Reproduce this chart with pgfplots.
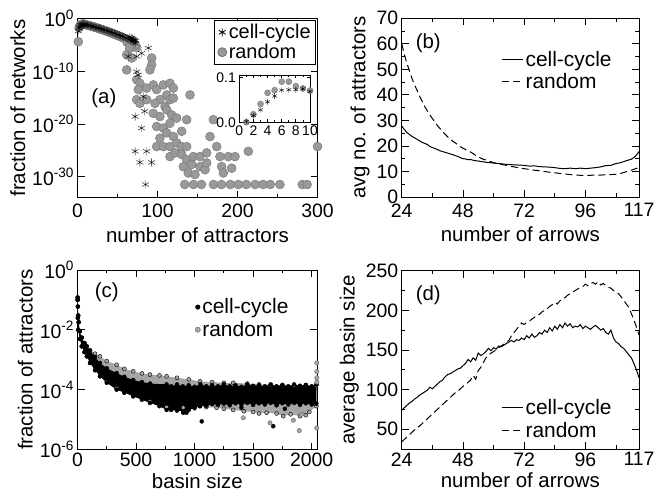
\documentclass[border=0pt]{standalone}
\usepackage{fontspec}
\setmainfont{Liberation Sans}
\usepackage{pgfplots}
\pgfplotsset{compat=1.18}

\pgfplotsset{
  panel/.style={
    scale only axis,
    anchor=south west,
    tick align=inside,
    major tick length=7bp,
    minor tick length=3.5bp,
    axis line style={line width=0.9pt},
    every tick/.style={black, line width=0.8pt},
    tick label style={font=\fontsize{19.5}{20}\selectfont},
    label style={font=\fontsize{20.5}{22}\selectfont},
    /pgf/number format/assume math mode=true,
    /pgf/number format/set thousands separator={},
    legend style={font=\fontsize{21}{23}\selectfont, draw=none, fill=none, row sep=2bp},
    legend cell align=left,
  },
  toprow/.style={xticklabel style={yshift=-3bp}, xlabel style={yshift=-3bp}},
  lines/.style={legend image code/.code={\draw[##1] (0bp,0bp) -- (21bp,0bp);}},
}

\begin{document}
\begin{tikzpicture}
\useasboundingbox (0,0) rectangle (658bp,499bp);

% (a) distribution of the number of attractors
\begin{axis}[panel, toprow, at={(77.5bp,301.3bp)}, width=240bp, height=179.2bp,
  xmin=0, xmax=300, ymode=log, ymin=1e-34, ymax=1,
  xtick={0,100,200,300}, minor xtick={50,150,250},
  ytick={1e-30,1e-20,1e-10,1}, yminorticks=false,
  yticklabels={10\textsuperscript{-30},10\textsuperscript{-20},10\textsuperscript{-10},10\textsuperscript{0}},
  xlabel={number of attractors}, ylabel={fraction of networks},
  legend style={at={(rel axis cs:0.994,0.992)}, anchor=north east, draw=black, fill=white,
    line width=0.8pt, font=\fontsize{20}{22}\selectfont, row sep=0bp},
]
\addlegendimage{only marks, mark=asterisk, mark size=4bp, black}
\addlegendentry{cell-cycle}
\addlegendimage{only marks, mark=*, mark size=4.5bp, mark options={draw=black!55, fill=black!40}}
\addlegendentry{random}
% random
\addplot[only marks, mark=*, mark size=4.5bp, mark options={draw=black!55, fill=black!40}, forget plot] coordinates {
(1,4e-5) (2,0.018) (3,0.041) (4,0.066) (5,0.072) (6,0.091) (7,0.091) (8,0.081) (9,0.076) (10,0.071)
(12,5.6e-2) (14,4.7e-2) (16,3.9e-2) (18,3.2e-2) (20,2.6e-2) (22,2.1e-2) (24,1.7e-2) (26,1.35e-2)
(28,1.07e-2) (30,8.5e-3) (32,6.8e-3) (34,5.2e-3) (36,4.1e-3) (38,3.2e-3) (40,2.5e-3) (42,1.9e-3)
(44,1.45e-3) (46,1.1e-3) (48,8.3e-4) (50,6.3e-4) (52,4.7e-4) (54,3.5e-4) (56,2.6e-4) (58,1.9e-4)
(60,1.4e-4) (62,1e-4) (64,7.2e-5) (66,5.1e-5) (68,3.6e-5) (70,2.5e-5)
(62,3e-5) (66,1e-5) (70,6e-6) (74,3e-6) (72,1e-5) (65,2e-6)
(61.5,1.3e-7) (67.7,3.2e-8) (61.5,1.8e-10) (74,2.5e-12) (78,5e-13) (76,3.2e-14) (86.5,6.3e-14)
(74,4e-16) (78,7.9e-17) (86.5,4e-16) (92.7,3.2e-8) (92.7,1.6e-9) (90.6,1.8e-10) (94.8,2.5e-13)
(99,3.2e-14) (107.3,2.5e-13) (115.6,5e-13) (119.8,6.3e-14) (111.5,3.2e-15) (103,4e-16)
(96.9,7.9e-17) (109.4,2e-17) (115.6,4e-16) (119.8,7.9e-16) (94.8,1e-18) (103,2.5e-19)
(111.5,5e-18) (117.7,5e-19) (124,1.3e-19) (115.6,1.3e-20) (99,3.2e-21) (107.3,1.6e-21)
(111.5,2e-22) (119.8,4e-23) (130.2,4e-22) (136.5,6.3e-20) (140.6,3.2e-15) (103,2e-23)
(99,5e-25) (107.3,5e-25) (115.6,5e-25) (124,2.5e-24) (130.2,5e-25) (136.5,5e-25)
(115.6,6.3e-27) (121.9,3.2e-26) (130.2,1.6e-26) (136.5,1.6e-27) (144.8,6.3e-27) (153.1,6.3e-27)
(161.5,3.2e-26) (132.3,7.9e-29) (142.7,2e-28) (153.1,7.9e-29) (159.4,2e-29) (138.5,5e-30)
(146.9,2.5e-30) (161.5,4e-28) (165.6,4e-23) (169.8,6.3e-20) (174,5e-25) (178.1,6.3e-27)
(180.2,7.9e-29) (182.3,5e-30) (188.5,6.3e-27) (192.7,4e-29) (196.9,6.3e-27) (213.5,6.3e-26)
(134,3.2e-32) (145,3.2e-32) (155,3.2e-32) (170,3.2e-32) (180,3.2e-32) (191,3.2e-32) (201,3.2e-32)
(211,3.2e-32) (222,3.2e-32) (232,3.2e-32) (241,3.2e-32) (253,3.2e-32) (281,3.2e-32) (287,3.2e-32)
(300,5e-25)
};
% cell-cycle
\addplot[only marks, mark=asterisk, mark size=4bp, black, forget plot] coordinates {
(1,4e-3) (2,1.6e-2) (3,2.8e-2) (4,4.6e-2) (5,5.9e-2) (6,7.2e-2) (7,7.3e-2) (8,7.3e-2) (9,7.5e-2) (10,6.9e-2)
(12,5.9e-2) (14,5e-2) (16,4.2e-2) (18,3.5e-2) (20,2.9e-2) (22,2.4e-2) (24,1.95e-2) (26,1.6e-2)
(28,1.3e-2) (30,1.05e-2) (32,8.3e-3) (34,6.8e-3) (36,5.4e-3) (38,4.2e-3) (40,3.3e-3) (42,2.6e-3)
(44,2e-3) (46,1.55e-3) (48,1.2e-3) (50,9.1e-4) (52,6.9e-4) (54,5.2e-4) (56,4e-4) (58,3e-4)
(60,2.2e-4) (62,1.6e-4) (64,1.2e-4) (66,8.7e-5) (68,6.3e-5) (70,4.6e-5)
(65,3e-4) (67,2e-4) (69,1.5e-4) (71,8e-5) (73,6e-5) (72,2e-5)
(69.8,8.5e-5) (63.5,6.3e-8) (74,6.3e-8) (80,2.5e-7) (88.5,2.5e-6) (74,7.9e-11) (76,2e-11)
(82,1.6e-15) (72,2.5e-19) (84,2.5e-18) (80,1.6e-21) (72,6.3e-26) (86.5,6.3e-26) (78,5e-28)
(92.7,5e-28) (85,3.2e-32)
};
\node[font=\fontsize{20.5}{22}\selectfont] at (rel axis cs:0.11,0.555) {(a)};
\end{axis}

% (a) inset, linear scale
\begin{axis}[panel, at={(239.3bp,376.7bp)}, width=70.7bp, height=47.3bp,
  xmin=0, xmax=10, ymin=0, ymax=0.106,
  xtick={0,2,...,10}, minor xtick={1,3,...,9}, ytick={0,0.1},
  major tick length=3.5bp, minor tick length=2bp,
  axis background/.style={fill=white},
  tick label style={font=\fontsize{14}{15}\selectfont},
  yticklabel style={/pgf/number format/.cd, fixed, precision=1, zerofill},
  xtick pos=both, ytick pos=both,
]
\addplot[only marks, mark=*, mark size=3bp, mark options={draw=black!55, fill=black!40}] coordinates {
(1,0) (2,0.018) (3,0.041) (4,0.066) (5,0.072) (6,0.091) (7,0.091) (8,0.081) (9,0.076) (10,0.071)
};
\addplot[only marks, mark=asterisk, mark size=2.8bp, black] coordinates {
(1,0.002) (2,0.015) (3,0.028) (4,0.046) (5,0.059) (6,0.072) (7,0.073) (8,0.073) (9,0.075) (10,0.069)
};
\end{axis}

% (b) average number of attractors
\begin{axis}[panel, toprow, lines, at={(401.7bp,302bp)}, width=237.3bp, height=178.7bp,
  xmin=24, xmax=117, ymin=0, ymax=70,
  xtick={24,48,72,96,117}, minor xtick={36,60,84,108},
  ytick={0,10,...,70}, minor ytick={5,15,...,65},
  xlabel={number of arrows}, ylabel={avg no. of attractors},
  legend style={at={(rel axis cs:0.42,0.83)}, anchor=north west, inner sep=0pt},
]
\addplot[black, line width=1pt] coordinates {
(24,27.8) (25,26.5) (26,25.3) (27,24.5) (28,23.8) (29,23.2) (30,22.6) (31,22) (32,21.4) (33,21)
(34,20.6) (35,19.8) (36,19.4) (37,19) (38,18.6) (39,18.1) (40,17.8) (41,17.5) (42,17.2) (43,16.9)
(44,16.6) (45,16.2) (46,15.9) (47,15.4) (48,15) (49,14.9) (50,14.6) (51,14.7) (52,14.4) (53,14.2)
(54,14.1) (55,13.9) (56,13.8) (57,13.6) (58,13.5) (60,13.3) (62,13.1) (64,12.9) (66,12.7) (68,12.6)
(70,12.5) (72,12.4) (74,12.1) (76,12.2) (78,11.9) (80,11.8) (82,11.7) (84,11.5) (86,11.2) (88,11.1)
(90,11.3) (92,11.1) (94,11.3) (96,11.1) (98,11.3) (100,11.5) (102,11.8) (104,12.3) (106,12.4)
(108,13.1) (110,13.5) (112,14.2) (114,14.8) (115,15.5) (116,16.4) (117,17.8)
};
\addlegendentry{cell-cycle}
\addplot[black, line width=1pt, dash pattern=on 7bp off 4bp] coordinates {
(24,60) (25,56) (26,52.5) (27,49.5) (28,46.5) (29,44) (30,41.8) (31,39.5) (32,37.5) (33,35.5)
(34,33.8) (35,32.2) (36,30.8) (37,29.4) (38,28) (39,26.8) (40,25.6) (41,24.6) (42,23.6) (43,22.7)
(44,21.9) (45,21.2) (46,20.4) (47,19.7) (48,19.1) (49,18.6) (50,18.2) (51,17.6) (52,17) (53,16.3)
(54,15.8) (55,15.2) (56,14.8) (57,14.5) (58,14.1) (60,13.5) (62,13) (64,12.6) (66,12.2) (68,11.8)
(70,11.4) (72,11.1) (74,10.8) (76,10.5) (78,10.3) (80,10) (82,9.7) (84,9.5) (86,9.2) (88,9)
(90,8.8) (92,8.6) (94,8.5) (96,8.4) (98,8.5) (100,8.6) (102,8.6) (104,8.7) (106,8.8) (108,8.9)
(110,9.3) (112,9.9) (114,10.5) (116,11.2) (117,11.6)
};
\addlegendentry{random}
\node[font=\fontsize{20.5}{22}\selectfont] at (rel axis cs:0.112,0.86) {(b)};
\end{axis}

% (c) basin size distribution
\begin{axis}[panel, at={(77.5bp,49.5bp)}, width=239.8bp, height=179.5bp,
  xmin=0, xmax=2048, ymode=log, ymin=1e-6, ymax=1,
  xtick={0,500,1000,1500,2000}, minor xtick={250,750,1250,1750},
  ytick={1e-6,1e-4,1e-2,1}, yminorticks=false,
  yticklabels={10\textsuperscript{-6},10\textsuperscript{-4},10\textsuperscript{-2},10\textsuperscript{0}},
  xlabel={basin size}, ylabel={fraction of attractors},
  legend style={at={(rel axis cs:0.49,0.852)}, anchor=north west, inner sep=0pt},
]
\addlegendimage{only marks, mark=*, mark size=2.3bp, black}
\addlegendentry{cell-cycle}
\addlegendimage{only marks, mark=*, mark size=2.6bp, mark options={draw=black!60, fill=black!35}}
\addlegendentry{random}
% random band (upper edge, then lower edge back)
\addplot[fill=black!35, draw=none, mark=*, mark size=2bp, mark options={draw=none, fill=black!35}, forget plot] coordinates {
(1,0.12) (3,0.06) (6,0.03) (10,0.018) (20,9e-3) (36,5.5e-3) (60,3.6e-3) (79,2.8e-3) (107,2.1e-3)
(150,1.6e-3) (192,1.3e-3) (250,9e-4) (334,6.8e-4) (400,5e-4) (476,4.1e-4) (550,3.5e-4) (619,3.2e-4)
(700,3e-4) (761,2.8e-4) (850,2.5e-4) (950,2.2e-4) (1046,1.9e-4) (1150,1.8e-4) (1250,1.7e-4)
(1330,1.7e-4) (1450,1.6e-4) (1550,1.5e-4) (1650,1.45e-4) (1750,1.4e-4) (1850,1.4e-4) (1950,1.4e-4) (2040,1.4e-4)
(2040,2.8e-5) (1980,1.8e-5) (1950,1.4e-5) (1900,1.3e-5) (1820,1.5e-5) (1757,1.3e-5) (1700,1.6e-5)
(1615,1.7e-5) (1550,1.6e-5) (1500,1.8e-5) (1420,1.9e-5) (1330,2.1e-5) (1250,2.3e-5) (1188,2.5e-5)
(1100,2.6e-5) (1046,2.8e-5) (903,2.5e-5) (761,2.6e-5) (619,4e-5) (476,6e-5) (400,8e-5) (334,1.1e-4)
(250,1.8e-4) (192,2.8e-4) (150,4.5e-4) (107,7.8e-4) (80,1.3e-3) (60,1.8e-3) (36,2.8e-3) (20,5e-3)
(7,1e-2) (3,2.5e-2) (1,0.1)
};
% cell-cycle band
\addplot[fill=black, draw=none, mark=*, mark size=2bp, mark options={draw=none, fill=black}, forget plot] coordinates {
(1,0.12) (3,0.06) (6,0.03) (10,0.018) (20,9e-3) (36,5.5e-3) (60,3.6e-3) (79,2.8e-3) (107,2e-3)
(150,1.25e-3) (192,7.8e-4) (250,5.2e-4) (334,3.6e-4) (400,2.7e-4) (476,2.1e-4) (550,1.8e-4)
(620,1.6e-4) (761,1.5e-4) (800,1.3e-4) (850,1.5e-4) (900,1.3e-4) (950,1.4e-4) (1000,1.25e-4)
(1050,1.5e-4) (1100,1.3e-4) (1150,1.4e-4) (1200,1.3e-4) (1250,1.5e-4) (1300,1.3e-4) (1350,1.4e-4)
(1400,1.25e-4) (1450,1.5e-4) (1500,1.35e-4) (1550,1.4e-4) (1600,1.3e-4) (1650,1.5e-4) (1700,1.3e-4)
(1750,1.45e-4) (1800,1.3e-4) (1850,1.5e-4) (1900,1.35e-4) (1950,1.45e-4) (2000,1.3e-4) (2040,1.5e-4)
(2040,3.4e-5) (2000,3.2e-5) (1950,3.5e-5) (1900,3.1e-5) (1850,3.6e-5) (1800,3.2e-5) (1750,3.5e-5)
(1700,3e-5) (1650,3.6e-5) (1600,3.2e-5) (1550,3.5e-5) (1500,3.1e-5) (1450,3.6e-5) (1400,3.2e-5)
(1350,3.5e-5) (1300,3e-5) (1250,3.4e-5) (1200,3.1e-5) (1150,3.3e-5) (1100,2.9e-5) (1046,2.8e-5)
(1000,2.4e-5) (950,2.1e-5) (903,1.9e-5) (850,2e-5) (800,2.1e-5) (761,2.1e-5) (700,2.8e-5)
(619,3.6e-5) (550,4.6e-5) (476,6e-5) (400,8e-5) (334,1e-4) (250,1.7e-4) (192,2.8e-4) (150,4.5e-4)
(107,7.8e-4) (80,1.3e-3) (60,1.8e-3) (36,2.8e-3) (20,5e-3) (7,1e-2) (3,2.5e-2) (1,0.1)
};
% outliers
\addplot[only marks, mark=*, mark size=2.2bp, mark options={draw=black!60, fill=black!35}, forget plot] coordinates {
(1416,1.15e-5) (1644,7.8e-6) (1843,9.5e-6) (1894,4.3e-6) (1914,1.5e-5) (2043,5.2e-6)
(2044,7.8e-4) (2044,4e-4) (2044,2.5e-4) (2044,1.8e-4)
};
\addplot[only marks, mark=*, mark size=2bp, black, forget plot] coordinates {
(903,1.7e-5) (931,1.7e-5) (1061,8.7e-6) (1672,6e-6) (1771,2.3e-5) (1400,2.5e-5)
};
\node[font=\fontsize{20.5}{22}\selectfont] at (rel axis cs:0.122,0.879) {(c)};
\end{axis}

% (d) average basin size
\begin{axis}[panel, lines, at={(401.7bp,50bp)}, width=237.3bp, height=178.3bp,
  xmin=24, xmax=117, ymin=25, ymax=250,
  xtick={24,48,72,96,117}, minor xtick={36,60,84,108},
  ytick={50,100,...,250}, minor ytick={75,125,175,225},
  xlabel={number of arrows}, ylabel={average basin size},
  legend style={at={(rel axis cs:0.42,0.29)}, anchor=north west, inner sep=0pt},
]
\addplot[black, line width=1pt] coordinates {
(24,74) (25,77) (26,80) (27,83) (28,85) (29,88) (30,90) (31,93) (32,95) (33,97) (34,99) (35,103)
(36,101) (37,104) (38,107) (39,110) (40,112) (41,116) (42,119) (43,120) (44,122) (45,124) (46,126)
(47,127) (48,130) (49,133) (50,138) (51,135) (52,140) (53,137) (54,146) (55,143) (56,145) (57,148)
(58,152) (59,149) (60,153) (61,151) (62,155) (63,154) (64,156) (65,158) (66,160) (67,162) (68,160)
(69,163) (70,162) (71,165) (72,163) (73,168) (74,165) (75,170) (76,166) (77,168) (78,172) (79,170)
(80,175) (81,172) (82,178) (83,174) (84,180) (85,176) (86,182) (87,178) (88,184) (89,180) (90,183)
(91,178) (92,180) (93,179) (94,182) (95,177) (96,180) (97,178) (98,176) (99,179) (100,181) (101,178)
(102,175) (103,177) (104,172) (105,170) (106,175) (107,165) (108,160) (109,158) (110,154) (111,152)
(112,148) (113,144) (114,140) (115,133) (116,125) (117,115)
};
\addlegendentry{cell-cycle}
\addplot[black, line width=1pt, dash pattern=on 7bp off 4bp] coordinates {
(24,34) (25,37) (26,40) (27,43) (28,46) (29,49) (30,52) (31,54) (32,57) (33,60) (34,63) (35,66)
(36,69) (37,72) (38,75) (39,78) (40,81) (41,84) (42,87) (43,90) (44,93) (45,96) (46,98) (47,101)
(48,104) (49,106) (50,109) (51,112) (52,118) (53,113) (54,124) (55,128) (56,134) (57,140) (58,143)
(59,146) (60,148) (61,150) (62,153) (63,155) (64,157) (65,160) (66,162) (67,168) (68,172) (69,176)
(70,180) (71,184) (72,182) (73,185) (74,186) (75,189) (76,191) (77,194) (78,195) (79,198) (80,200)
(81,202) (82,205) (83,207) (84,210) (85,208) (86,212) (87,213) (88,216) (89,219) (90,221) (91,223)
(92,225) (93,227) (94,229) (95,230) (96,233) (97,231) (98,234) (99,235) (100,233) (101,236) (102,232)
(103,234) (104,231) (105,229) (106,228) (107,225) (108,222) (109,221) (110,217) (111,213) (112,208)
(113,204) (114,196) (115,188) (116,179) (117,169)
};
\addlegendentry{random}
\node[font=\fontsize{20.5}{22}\selectfont] at (rel axis cs:0.112,0.864) {(d)};
\end{axis}
\end{tikzpicture}
\end{document}
